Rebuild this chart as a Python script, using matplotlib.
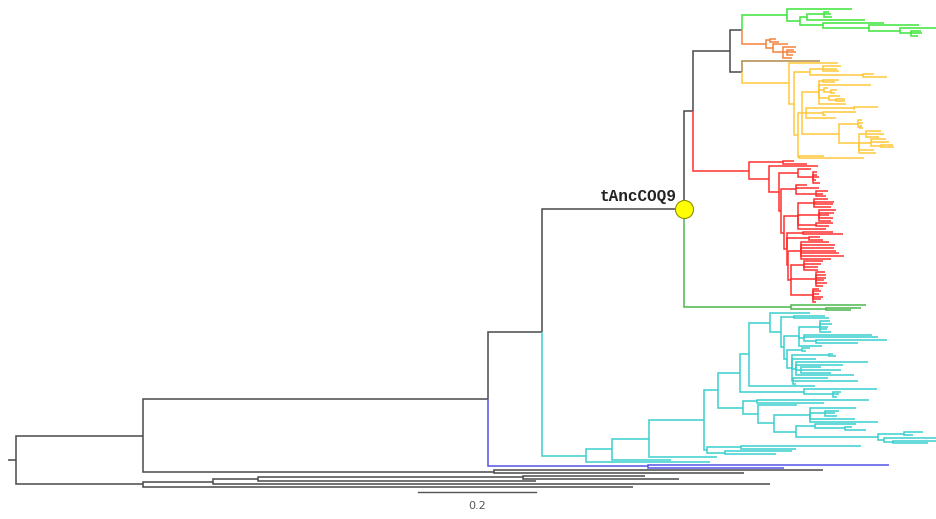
import matplotlib
matplotlib.use('Agg')
import matplotlib.pyplot as plt
from matplotlib.collections import LineCollection

# clade subtrees (newick, branch lengths in substitutions/site)
GREEN = ("(:0.110,(((:0.008,:0.012,:0.014):0.029,:0.098):0.012,"
         "(:0.103,(:0.085,(:0.063,(:0.017,:0.019,:0.012):0.019):0.053):0.078):0.039):0.022)")

ORANGE = "((:0.010,:0.014):0.007,(:0.025,(:0.022,(:0.012,:0.015,:0.010):0.007,:0.014):0.017):0.012)"

YELLOW = ("(:0.083,(((:0.031,:0.024,:0.027):0.022,(:0.019,:0.041):0.090):0.027,"
          "((((:0.027,:0.019):0.007,:0.088,(:0.007,(:0.010,:0.007):0.012):0.008,"
          "(:0.019,(:0.014,:0.014):0.012):0.017,:0.046):0.029,"
          "((:0.041,:0.002):0.081,(:0.056,:0.005):0.029,:0.051):0.007,"
          "((:0.007,:0.008,(:0.003,:0.005):0.003):0.032,((:0.025,:0.029,:0.022):0.012,"
          "(:0.025,:0.031,(:0.020,:0.022):0.017):0.020,:0.025,:0.029):0.034):0.063):0.007,"
          "(:0.042,:0.110):0.002):0.007):0.008)")

RED = ("((:0.019,:0.041):0.058,"
       "(:0.083,"
       "((:0.022,(:0.008,:0.007,:0.010,:0.005,:0.012):0.025):0.032,"
       "((:0.020,:0.039,(:0.020,:0.012,:0.017):0.034):0.025,"
       "(((:0.024,:0.034,:0.032,:0.029):0.027,(:0.029,:0.025,:0.017,:0.024,:0.020):0.036,"
       "(:0.029,:0.022):0.031,:0.047):0.024,"
       "((:0.051,:0.069):0.027,(:0.020,:0.024):0.037,"
       "((:0.047,:0.058,:0.056,:0.059,:0.064,:0.073,:0.051):0.022,"
       "((:0.032,:0.029,:0.024,:0.024):0.022,(:0.015,:0.017,:0.017,:0.014,:0.019,:0.012):0.042,"
       "(:0.010,:0.014,:0.010,:0.017,:0.014,:0.005):0.037)"
       ":0.005):0.002):0.005):0.005):0.003):0.017):0.034)")

DKGREEN = "(:0.127,(:0.059,:0.042):0.059)"

CYAN = ("((((((((:0.068,((:0.051,:0.058):0.022,("
        "((:0.017,:0.020,:0.014,:0.012,:0.019):0.036,(:0.114,:0.125,(:0.119,:0.071):0.020):0.010,:0.039):0.024,"
        "((:0.014,:0.008):0.024,"
        "((:0.008,:0.012):0.063,:0.042,(:0.122,:0.080,(:0.034,:0.068,:0.051):0.008,:0.098):0.008,"
        "(:0.058,:0.110,:0.005):0.003):0.007)"
        ":0.005):0.005):0.019):0.036,:0.112):0.015,"
        "(:0.124,(:0.014,:0.010,:0.007):0.049):0.108):0.037,"
        "((:0.190,:0.114):0.024,(:0.066,((:0.078,(:0.024,:0.017,:0.020):0.025,:0.075,:0.115):0.061,"
        "((:0.071,(:0.012,:0.036):0.051):0.031,"
        "((:0.032,:0.015):0.044,(:0.092,(:0.076,:0.059):0.015):0.010):0.139)"
        ":0.037):0.027):0.027):0.041):0.025,"
        "((:0.203,:0.092):0.059,(:0.114,:0.086):0.031):0.005):0.092,:0.114):0.063,:0.100):0.044,:0.210)")

# backbone with outgroups
BACKBONE = ("(((((((("
            "{green}green:0.076,{orange}orange:0.041):0.020,(brown:0.132,{yellow}yellow:0.080):0.020)"
            ":0.063,{red}red:0.095)"
            ":0.015,{dkgreen}dkgreen:0.181)tAncCOQ9"
            ":0.241,{cyan}cyan:0.075)"
            ":0.092,(:0.410,:0.232)blue:0.271)"
            ":0.585,(:0.558,:0.425):0.595)"
            ":0.214,((((:0.207,:0.264):0.449,:0.471):0.076,:0.944):0.120,:0.832):0.214):0.014;")

COLORS = {
    'green': '#3ce63c',
    'orange': '#f5843e',
    'brown': '#b08a4a',
    'yellow': '#ffc93c',
    'red': '#ff3030',
    'dkgreen': '#4cb84c',
    'cyan': '#3ccfcf',
    'blue': '#5454e6',
}
BASE = '#4a4a4a'
NODE_LABEL = 'tAncCOQ9'
SCALE = 0.2


def parse_newick(s):
    s = s.strip().rstrip(';')
    pos = 0

    def read():
        nonlocal pos
        node = {'name': '', 'len': 0.0, 'children': []}
        if s[pos] == '(':
            pos += 1
            while True:
                node['children'].append(read())
                ch = s[pos]
                pos += 1
                if ch == ')':
                    break
        start = pos
        while pos < len(s) and s[pos] not in ':,)':
            pos += 1
        node['name'] = s[start:pos]
        if pos < len(s) and s[pos] == ':':
            pos += 1
            start = pos
            while pos < len(s) and s[pos] not in ',)':
                pos += 1
            node['len'] = float(s[start:pos])
        return node

    return read()


def layout(node, x0, counter, color):
    node['x'] = x0 + node['len']
    node['color'] = COLORS.get(node['name'], color)
    if not node['children']:
        node['y'] = counter[0]
        counter[0] += 1
    else:
        for c in node['children']:
            layout(c, node['x'], counter, node['color'])
        node['y'] = (node['children'][0]['y'] + node['children'][-1]['y']) / 2


def collect(node, segs, cols, found):
    if node['name'] == NODE_LABEL:
        found.append(node)
    for c in node['children']:
        segs.append([(node['x'], node['y']), (node['x'], c['y']), (c['x'], c['y'])])
        cols.append(c['color'])
        collect(c, segs, cols, found)


tree = parse_newick(BACKBONE.format(green=GREEN, orange=ORANGE, yellow=YELLOW,
                                    red=RED, dkgreen=DKGREEN, cyan=CYAN))
counter = [0]
layout(tree, 0.0, counter, BASE)
n_leaves = counter[0]

segs = [[(0.0, tree['y']), (tree['x'], tree['y'])]]
cols = [BASE]
found = []
collect(tree, segs, cols, found)

fig = plt.figure(figsize=(9.37, 5.19), dpi=100)
ax = fig.add_axes([0, 0, 1, 1])
ax.add_collection(LineCollection(segs, colors=cols, linewidths=1.1,
                                 capstyle='butt', joinstyle='miter'))

# pixels per leaf row, leaves spread from y=9px to y=487px
step = (486.7 - 9) / (n_leaves - 1)
ax.set_ylim((519 - 9) / step, -9 / step)
ax.set_xlim(-8 / 590, 929 / 590)
ax.axis('off')

anc = found[0]
ax.plot(anc['x'], anc['y'], 'o', ms=13, mfc='#ffff00', mec='#8f8f00', mew=0.8, zorder=5)
ax.annotate(NODE_LABEL, (anc['x'], anc['y']), xytext=(-5, 6), textcoords='offset points',
            ha='right', va='baseline', fontsize=11.5, fontweight='bold',
            family='Liberation Mono', color='#222222')

# scale bar
x0 = (418 - 8) / 590
yb = (492 - 9) / step
ax.plot([x0, x0 + SCALE], [yb, yb], color='#555555', lw=1.0)
ax.text(x0 + SCALE / 2, (506 - 9) / step, '0.2', ha='center', va='center',
        fontsize=8, color='#555555')

fig.savefig('out.png', dpi=100)
